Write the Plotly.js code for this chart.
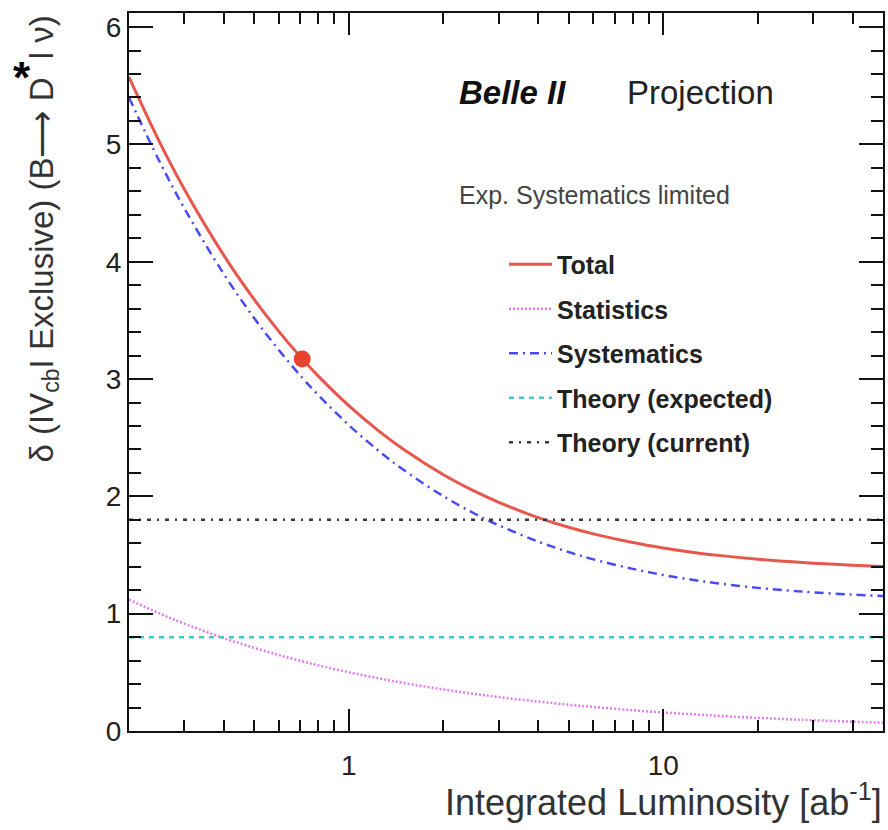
<!DOCTYPE html>
<html>
<head>
<meta charset="utf-8">
<script src="https://cdn.plot.ly/plotly-3.0.1.min.js"></script>
<style>html,body{margin:0;padding:0;background:#fff;}#chart{width:888px;height:830px;}</style>
</head>
<body>
<div id="chart"></div>
<script>
// Integrated luminosity sample points [ab^-1]
const lumi = [0.2, 0.25, 0.3, 0.4, 0.5, 0.6, 0.711, 0.8, 1, 1.25, 1.5, 2, 2.5, 3, 4, 5, 6, 8, 10, 12.5, 15, 20, 25, 30, 40, 50];
// Values
const totalErr = [5.573, 5.021, 4.617, 4.056, 3.679, 3.404, 3.173, 3.025, 2.773, 2.554, 2.397, 2.184, 2.046, 1.949, 1.819, 1.737, 1.680, 1.606, 1.560, 1.522, 1.497, 1.464, 1.444, 1.430, 1.413, 1.402];
const statErr  = [1.120, 1.002, 0.915, 0.792, 0.709, 0.647, 0.594, 0.560, 0.501, 0.448, 0.409, 0.354, 0.317, 0.289, 0.251, 0.224, 0.205, 0.177, 0.158, 0.142, 0.129, 0.112, 0.100, 0.092, 0.079, 0.071];
const systErr  = [5.400, 4.855, 4.455, 3.897, 3.520, 3.245, 3.012, 2.863, 2.608, 2.384, 2.222, 2.001, 1.856, 1.753, 1.615, 1.526, 1.463, 1.382, 1.330, 1.287, 1.258, 1.220, 1.197, 1.182, 1.162, 1.150];
const theoryX = [0.2, 50];
const theoryExpected = [0.8, 0.8];
const theoryCurrent = [1.8, 1.8];
const belleX = [0.711];
const belleY = [3.17];
const seriesNames = ["Total", "Statistics", "Systematics", "Theory (expected)", "Theory (current)"];

const FONT = "Liberation Sans, Arial, Helvetica, sans-serif";

const traces = [
  {x: lumi, y: totalErr, name: seriesNames[0], mode: "lines", legendgroup: "a",
   line: {color: "#e8574c", width: 3, shape: "spline"}},
  {x: lumi, y: statErr, name: seriesNames[1], mode: "lines", legendgroup: "b",
   line: {color: "#e27cf0", width: 2.5, dash: "2px,2px", shape: "spline"}},
  {x: lumi, y: systErr, name: seriesNames[2], mode: "lines", legendgroup: "c",
   line: {color: "#4b4bf2", width: 2.5, dash: "9px,5px,2px,5px", shape: "spline"}},
  {x: theoryX, y: theoryExpected, name: seriesNames[3], mode: "lines", legendgroup: "d",
   line: {color: "#45c8c8", width: 2.5, dash: "5px,5px"}},
  {x: theoryX, y: theoryCurrent, name: seriesNames[4], mode: "lines", legendgroup: "e",
   line: {color: "#3a3a3a", width: 2.5, dash: "4px,6px,2px,6px"}},
  {x: belleX, y: belleY, mode: "markers", showlegend: false,
   marker: {color: "#e8432d", size: 17}}
];

const axisCommon = {
  showgrid: false, zeroline: false, showline: true, mirror: "ticks",
  linecolor: "#111", linewidth: 2, ticks: "inside", tickcolor: "#111", tickwidth: 2,
  tickfont: {family: FONT, size: 28, color: "#222"}
};

const layout = {
  width: 888, height: 830,
  margin: {l: 129, r: 5, t: 13, b: 99},
  paper_bgcolor: "#fff", plot_bgcolor: "#fff",
  font: {family: FONT, color: "#222"},
  showlegend: true,
  xaxis: Object.assign({}, axisCommon, {
    type: "log", range: [Math.log10(0.2), Math.log10(50)],
    dtick: 1, ticklen: 22, ticklabelstandoff: 8,
    minor: {dtick: "D1", ticks: "inside", ticklen: 11, tickcolor: "#111", tickwidth: 2, showgrid: false}
  }),
  yaxis: Object.assign({}, axisCommon, {
    range: [0, 6.12], dtick: 1, ticklen: 24,
    minor: {dtick: 0.2, ticks: "inside", ticklen: 12, tickcolor: "#111", tickwidth: 2, showgrid: false}
  }),
  legend: {
    x: (504 - 129) / 754, y: 0.6816, xanchor: "left", yanchor: "top",
    bgcolor: "rgba(0,0,0,0)", borderwidth: 0,
    tracegroupgap: 9, itemwidth: 43,
    font: {family: FONT, size: 25, color: "#222", weight: "bold"}
  },
  annotations: [
    {xref: "paper", yref: "paper", x: (457 - 129) / 754, y: (731 - 92) / 718, xanchor: "left", yanchor: "middle",
     text: "<b><i>Belle II</i></b>", showarrow: false, font: {family: FONT, size: 33, color: "#111"}},
    {xref: "paper", yref: "paper", x: (625 - 129) / 754, y: (731 - 92) / 718, xanchor: "left", yanchor: "middle",
     text: "Projection", showarrow: false, font: {family: FONT, size: 33, color: "#222"}},
    {xref: "paper", yref: "paper", x: (457 - 129) / 754, y: (731 - 195) / 718, xanchor: "left", yanchor: "middle",
     text: "Exp. Systematics limited", showarrow: false, font: {family: FONT, size: 25, color: "#444"}},
    {xref: "paper", yref: "paper", x: 1.001, y: (731 - 800) / 718, xanchor: "right", yanchor: "middle",
     text: "Integrated Luminosity [ab<sup>-1</sup>]", showarrow: false, font: {family: FONT, size: 36, color: "#333"}},
    {xref: "paper", yref: "paper", x: (43 - 129) / 754, y: (731 - 14) / 718, xanchor: "center", yanchor: "top",
     textangle: -90,
     text: "δ (IV<sub>cb</sub>I Exclusive) (B⟶ D  l ν)",
     showarrow: false, font: {family: FONT, size: 33, color: "#333"}},
    {xref: "paper", yref: "paper", x: (22 - 129) / 754, y: (731 - 78) / 718, xanchor: "center", yanchor: "middle",
     text: "<b>*</b>", showarrow: false, font: {family: FONT, size: 44, color: "#000"}}
  ]
};

Plotly.newPlot("chart", traces, layout, {displayModeBar: false, staticPlot: true});
</script>
</body>
</html>
